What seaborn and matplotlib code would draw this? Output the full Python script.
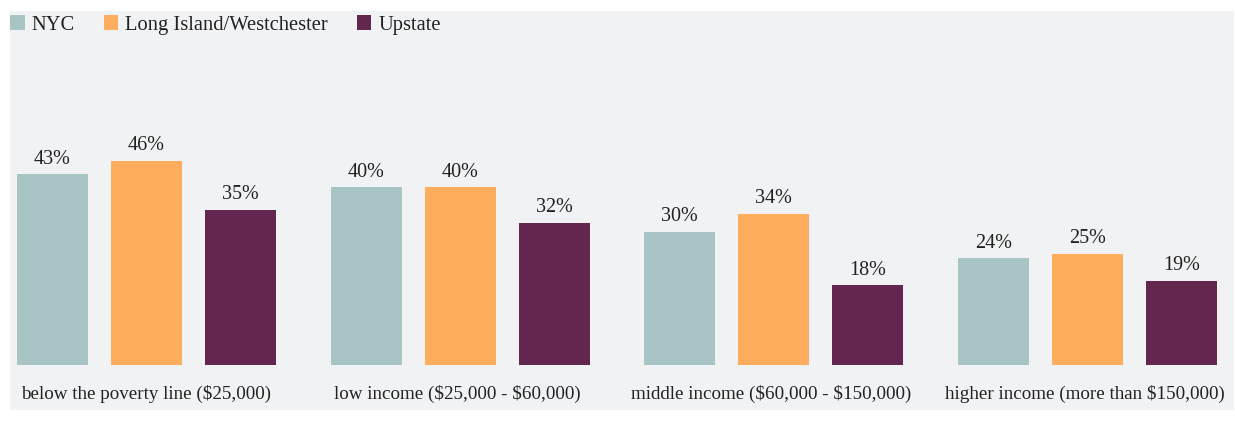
import matplotlib
matplotlib.use("Agg")
import matplotlib.pyplot as plt
import matplotlib.transforms as mtransforms
from matplotlib.patches import Rectangle, Patch
import seaborn as sns
import pandas as pd

# Share of residents by income bracket and region (%)
categories = [
    "below the poverty line ($25,000)",
    "low income ($25,000 - $60,000)",
    "middle income ($60,000 - $150,000)",
    "higher income (more than $150,000)",
]
regions = ["NYC", "Long Island/Westchester", "Upstate"]
nyc = [43, 40, 30, 24]
long_island = [46, 40, 34, 25]
upstate = [35, 32, 18, 19]
colors = ["#a9c4c4", "#feac5e", "#62264f"]

df = pd.DataFrame({
    "category": categories * 3,
    "region": [r for r in regions for _ in categories],
    "value": nyc + long_island + upstate,
})

sns.set_theme(style="white")
plt.rcParams["font.family"] = ["Liberation Serif", "DejaVu Serif"]
plt.rcParams["text.parse_math"] = False  # dollar signs are literal

W, H = 1235, 422
fig = plt.figure(figsize=(W / 100, H / 100), dpi=100)
fig.patch.set_facecolor("white")

# light grey panel behind the chart
px0, py0, px1, py1 = 10, 11, 1234, 410
fig.add_artist(Rectangle((px0 / W, 1 - py1 / H), (px1 - px0) / W, (py1 - py0) / H,
                         transform=fig.transFigure, facecolor="#f1f2f4",
                         edgecolor="none", zorder=0))

base = 365
ax = fig.add_axes([px0 / W, 1 - base / H, (px1 - px0) / W, (base - py0) / H])
ax.patch.set_alpha(0)

sns.barplot(data=df, x="category", y="value", hue="region", hue_order=regions,
            palette=colors, width=0.9, gap=0.245, saturation=1, ax=ax,
            legend=False, linewidth=0)

ppu = 313.67
ax.set_xlim(-(146.5 - px0) / ppu, 3 + (px1 - 1087.5) / ppu)
ax.set_ylim(0, (base - py0) / 4.44)

for cont in ax.containers:
    ax.bar_label(cont, labels=[f"{v:.0f}%" for v in cont.datavalues],
                 padding=4, fontsize=14.5, color="#222222")

for s in ax.spines.values():
    s.set_visible(False)
ax.set_yticks([])
ax.set_xlabel("")
ax.set_ylabel("")
ax.tick_params(axis="x", length=0, pad=14, labelsize=13.7, labelcolor="#222222")
shift = mtransforms.ScaledTranslation(-3 / 100, 0, fig.dpi_scale_trans)
for i, lab in enumerate(ax.get_xticklabels()):
    if i > 0:
        lab.set_transform(lab.get_transform() + shift)

handles = [Patch(facecolor=c, edgecolor="none") for c in colors]
fig.legend(handles, regions, loc="upper left", bbox_to_anchor=(2 / W, 1 - 7 / H),
           ncol=3, frameon=False, fontsize=14.8, handlelength=0.7, handleheight=0.7,
           handletextpad=0.35, columnspacing=1.4, labelcolor="#222222",
           borderaxespad=0)

fig.savefig("out.png", dpi=100, facecolor="white")
